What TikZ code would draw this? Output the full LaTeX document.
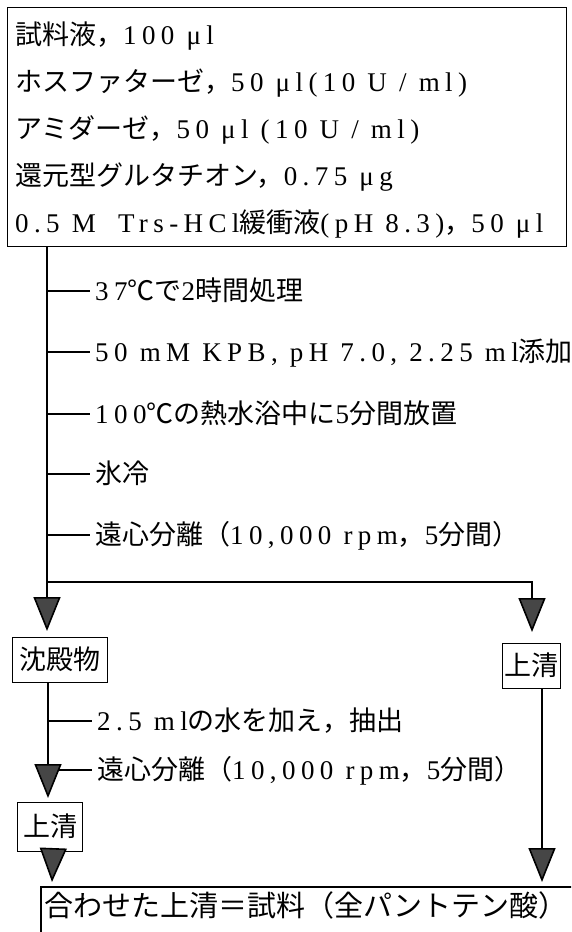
\documentclass[tikz,border=0pt]{standalone}
\usepackage{fontspec}
\setmainfont{Liberation Serif}[LetterSpace=20]
\newfontfamily\cjk{Noto Sans CJK JP}
\newcommand\J[1]{{\cjk #1}}
\usetikzlibrary{arrows.meta}
\begin{document}
\begin{tikzpicture}[x=1pt,y=-1pt,
  every node/.style={font=\fontsize{27}{32}\selectfont, inner sep=0pt, text height=21pt, text depth=3pt},
  txt/.style={anchor=west},
  box/.style={draw, line width=1.3pt, rectangle, inner sep=0pt},
  line/.style={line width=1.6pt},
  tick/.style={line width=1.2pt},
  arr/.style={line width=1.6pt, -{Triangle[width=27pt,length=34pt,fill=gray!55!black]}}]
\useasboundingbox (0,0) rectangle (571,932);
\clip (0,0) rectangle (571,932);

% top box
\node[box, minimum width=559pt, minimum height=239pt, anchor=north west] (top) at (7,7) {};
\node[txt] (t1) at (15,35) {\J{試料液，}100 μl};
\node[txt] (t2) at (15,82) {\J{ホスファターゼ，}50 μl(10 U / ml)};
\node[txt] (t3) at (15,129) {\J{アミダーゼ，}50 μl (10 U / ml)};
\node[txt] (t4) at (15,176) {\J{還元型グルタチオン，}0.75 μg};
\node[txt] (t5) at (15,223) {0.5 M\hspace{10pt} Trs-HCl\J{緩衝液}(pH 8.3)\J{，}50 μl};

% step labels
\node[txt] (s1) at (95,291) {37\J{℃で}2\J{時間処理}};
\node[txt] (s2) at (95,352) {50 mM KPB, pH 7.0, 2.25 ml\J{添加}};
\node[txt] (s3) at (95,414) {100\J{℃の熱水浴中に}5\J{分間放置}};
\node[txt] (s4) at (95,474) {\J{氷冷}};
\node[txt] (s5) at (95,535) {\J{遠心分離（}10,000 rpm\J{，}5\J{分間）}};

% boxes
\node[box, minimum width=95pt, minimum height=45pt, anchor=north west] (b1) at (12,637) {\J{沈殿物}};
\node[box, minimum width=58pt, minimum height=45pt, anchor=north west] (b2) at (502,643) {\J{上清}};
\node[txt] (s6) at (97,721) {2.5 ml\J{の水を加え，抽出}};
\node[txt] (s7) at (97,770) {\J{遠心分離（}10,000 rpm\J{，}5\J{分間）}};
\node[box, minimum width=65pt, minimum height=49pt, anchor=north west] (b3) at (17,802) {\J{上清}};
\node[box, line width=1.8pt, minimum width=600pt, minimum height=80pt, anchor=north west, text height=, text depth=] (fin) at (40,886) {};
\node[txt, font=\fontsize{29}{34}\selectfont, text height=22pt, text depth=3pt] (f1) at (44,907) {\J{合わせた上清＝試料（全パントテン酸）}};

% coordinates
\coordinate (v0) at (47,246);
\coordinate (sp) at (47,582);
\coordinate (r0) at (532,582);
\coordinate (v1) at (48,682);
\coordinate (r1) at (542,688);

% ticks
\foreach \n in {s1,s2,s3,s4,s5} \draw[tick] (\n.west -| v0) -- ([xshift=-5pt]\n.west);
\foreach \n in {s6,s7} \draw[tick] (\n.west -| v1) -- ([xshift=-5pt]\n.west);

% connectors
\draw[arr] (v0) -- ([yshift=6pt]b1.north -| v0);
\draw[arr] (sp) -- (r0) -- ([yshift=11pt]b2.north -| r0);
\draw[arr] (v1) -- ([yshift=4pt]b3.north -| v1);
\draw[arr] ([xshift=3pt]b3.south) -- ([yshift=4pt]fin.north -| 52,0);
\draw[arr] (r1) -- ([yshift=4pt]fin.north -| r1);
\end{tikzpicture}
\end{document}
